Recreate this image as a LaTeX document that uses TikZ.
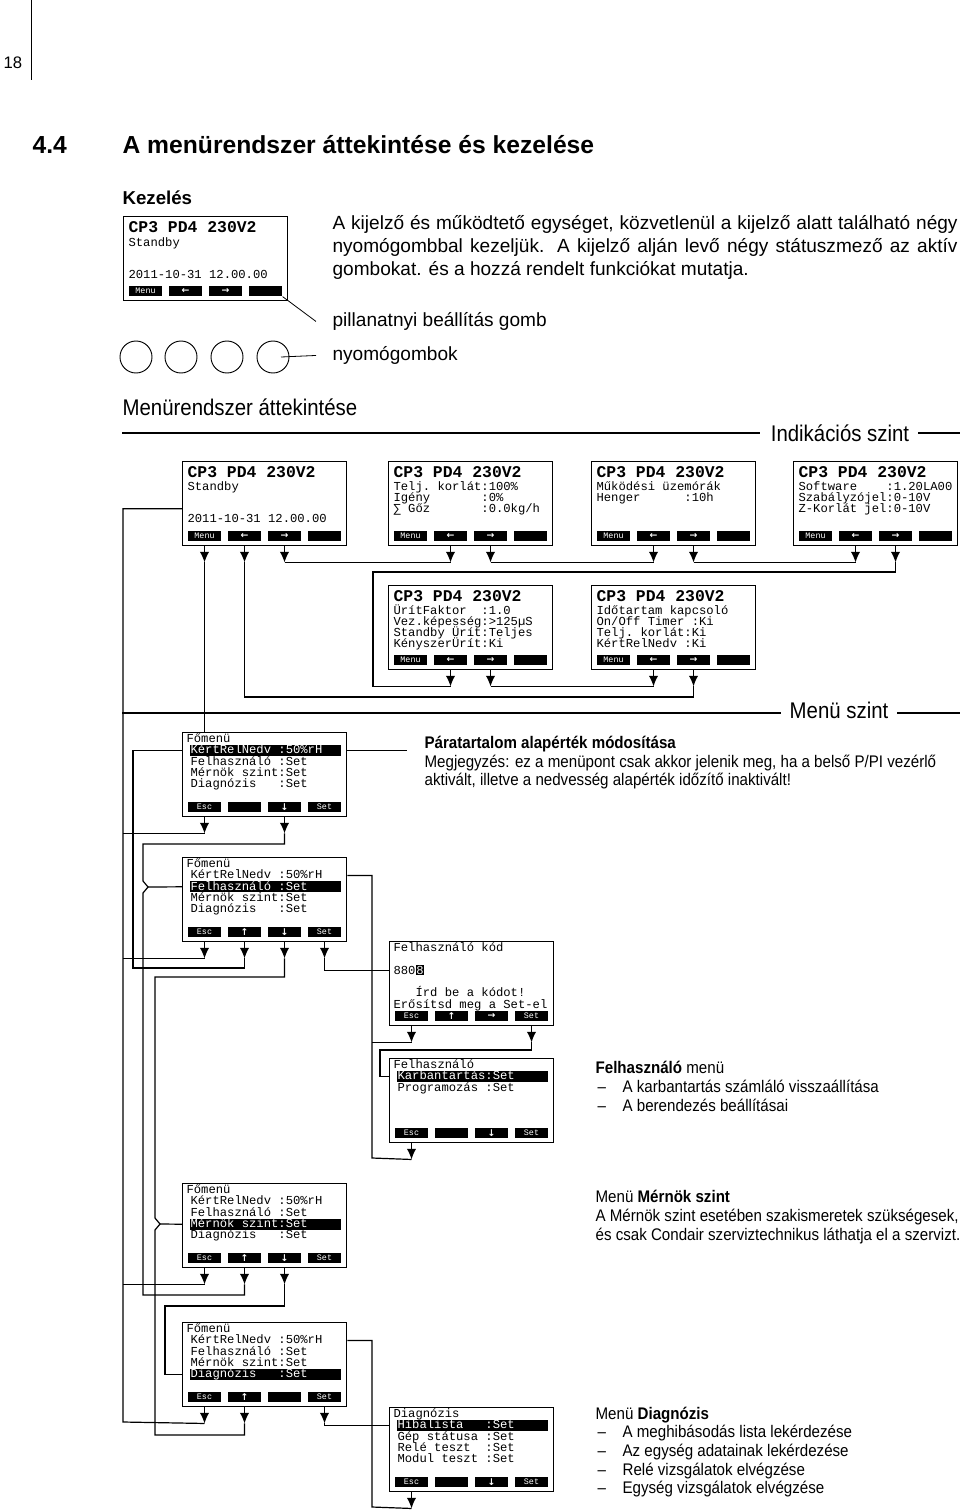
\documentclass[tikz,border=0pt]{standalone}
\usepackage{fontspec}
\setmainfont{Liberation Sans}
\setmonofont{Liberation Mono}
\newfontfamily\narrowfont[FakeStretch=0.9]{Liberation Sans}
\newfontfamily\symfont{DejaVu Sans}
\usetikzlibrary{arrows.meta}

\newcommand\lcdfont{\ttfamily\frenchspacing\fontsize{9.15}{10}\selectfont}
\newcommand\lcdbig{\ttfamily\bfseries\fontsize{12.3}{13}\selectfont}
\newcommand\btnfont{\ttfamily\fontsize{6.3}{7}\selectfont}
\newcommand\bodyfont{\fontsize{14.3}{17}\selectfont}
\newcommand\headfont{\bfseries\fontsize{18.5}{22}\selectfont}
\newcommand\notefont{\narrowfont\fontsize{12.6}{14}\selectfont}
\newcommand\levelfont{\narrowfont\fontsize{17}{20}\selectfont}
\newcommand\keyL{{\symfont\bfseries\fontsize{7}{7}\selectfont ←}}
\newcommand\keyR{{\symfont\bfseries\fontsize{7}{7}\selectfont →}}
\newcommand\keyU{{\symfont\bfseries\fontsize{7}{7}\selectfont ↑}}
\newcommand\keyD{{\symfont\bfseries\fontsize{7}{7}\selectfont ↓}}
\newcommand\hlchar[1]{{\setlength{\fboxsep}{0.6pt}\colorbox{black}{\textcolor{white}{#1}}}}
\newcommand\hibar[1]{\makebox[111.75pt][l]{#1}}

\newcommand\lcd[7]{%
  \node[lcdbox] (#1) at (#2,#3) {};
  \node[lcdbtn] (#1-1) at (#2+22.5,#3+75) {#4};
  \node[lcdbtn] (#1-2) at (#2+62.5,#3+75) {#5};
  \node[lcdbtn] (#1-3) at (#2+102.5,#3+75) {#6};
  \node[lcdbtn] (#1-4) at (#2+142.5,#3+75) {#7};
}
\newcommand\lcdrow[5][lcdtxt]{\node[#1] (#2-r#3) at ([shift={(#4)}]#2.north west) {#5};}
\newcommand\keyarr[2]{\draw[arr] (#1-#2 |- #1.south) -- ++(0,16) coordinate (#1-#2-t);}

\begin{document}
\begin{tikzpicture}[x=0.75pt, y=-0.75pt, line width=0.9pt,
  lcdbox/.style={draw, line width=1.1pt, anchor=north west, minimum width=123pt, minimum height=63pt, inner sep=0},
  lcdbtn/.style={fill=black, text=white, minimum width=24.75pt, minimum height=7.5pt, inner sep=0, font=\btnfont},
  lcdtxt/.style={anchor=west, inner sep=0, text height=6.5pt, text depth=1.5pt, font=\lcdfont},
  lcdtitle/.style={lcdtxt, text height=7pt, text depth=0pt, font=\lcdbig},
  lcdhi/.style={lcdtxt, fill=black, text=white, inner xsep=0.75pt, inner ysep=0.2pt},
  arr/.style={-{Latex[length=8pt,width=7pt]}},
  body/.style={anchor=base west, inner sep=0, font=\bodyfont},
  note/.style={anchor=base west, inner sep=0, font=\notefont},
  level/.style={anchor=base, inner sep=0, font=\levelfont},
  knob/.style={circle, draw, line width=0.7pt, minimum size=24pt, inner sep=0}]
\useasboundingbox (0,0) rectangle (960,1510);

\node[anchor=base west, inner sep=0, font=\fontsize{12.5}{14}\selectfont] (page) at (3,68) {18};
\draw[line width=0.7pt] (31,0) -- (31,80);
\node[anchor=base west, inner sep=0, font=\headfont] (secno) at (32,153.5) {4.4};
\node[anchor=base west, inner sep=0, font=\headfont] (sec) at (122,153.5) {A menürendszer áttekintése és kezelése};
\node[anchor=base west, inner sep=0, font=\bfseries\fontsize{14}{16}\selectfont] (kez) at (122,204) {Kezelés};

\lcd{K}{123}{216}{Menu}{\keyL}{\keyR}{}
\lcdrow[lcdtitle]{K}{0}{5,12}{CP3 PD4 230V2}
\lcdrow{K}{1}{5,27}{Standby}
\lcdrow{K}{4}{5,59}{2011-10-31 12.00.00}

\node[body] (p1) at (332,229.5) {\makebox[468.75pt][s]{A kijelző és működtető egységet, közvetlenül a kijelző alatt található négy}};
\node[body] (p2) at (332,252.5) {\makebox[468.75pt][s]{nyomógombbal kezeljük. A kijelző alján levő négy státuszmező az aktív}};
\node[body] (p3) at (332,275.5) {gombokat. és a hozzá rendelt funkciókat mutatja.};
\node[body] (pill) at (332,326.5) {pillanatnyi beállítás gomb};
\node[body] (nyo) at (332,360.5) {nyomógombok};
\draw[line width=0.6pt] (K-4.south east) -- ([xshift=-12pt]pill.west);

\node[knob] (c1) at (136,357) {};
\node[knob] (c2) at (181,357) {};
\node[knob] (c3) at (227,357) {};
\node[knob] (c4) at (273,357) {};
\draw[line width=0.6pt] ([xshift=6pt]c4.center) -- ([xshift=-12pt]nyo.west);

\node[anchor=base west, inner sep=0, font=\levelfont] (over) at (122,415) {Menürendszer áttekintése};
\node[level] (ind) at (840,441) {Indikációs szint};
\draw (122,433) -- (760,433);
\draw (918,433) -- (960,433);
\node[level] (menu) at (839,718) {Menü szint};
\draw (122,713) -- (781,713);
\draw (897,713) -- (960,713);

\lcd{D1}{182}{461}{Menu}{\keyL}{\keyR}{}
\lcdrow[lcdtitle]{D1}{0}{5,12}{CP3 PD4 230V2}
\lcdrow{D1}{1}{5,26}{Standby}
\lcdrow{D1}{4}{5,58}{2011-10-31 12.00.00}

\lcd{D2}{388}{461}{Menu}{\keyL}{\keyR}{}
\lcdrow[lcdtitle]{D2}{0}{5,12}{CP3 PD4 230V2}
\lcdrow{D2}{1}{5,26}{Telj. korlát:100\%}
\lcdrow{D2}{2}{5,37}{Igény~~~~~~~:0\%}
\lcdrow{D2}{3}{5,48}{∑~Gőz~~~~~~~:0.0kg/h}

\lcd{D3}{591}{461}{Menu}{\keyL}{\keyR}{}
\lcdrow[lcdtitle]{D3}{0}{5,12}{CP3 PD4 230V2}
\lcdrow{D3}{1}{5,26}{Működési üzemórák}
\lcdrow{D3}{2}{5,37}{Henger~~~~~~:10h}

\lcd{D4}{793}{461}{Menu}{\keyL}{\keyR}{}
\lcdrow[lcdtitle]{D4}{0}{5,12}{CP3 PD4 230V2}
\lcdrow{D4}{1}{5,26}{Software~~~~:1.20LA00}
\lcdrow{D4}{2}{5,37}{Szabályzójel:0-10V}
\lcdrow{D4}{3}{5,48}{Z-Korlát jel:0-10V}

\lcd{D5}{388}{585}{Menu}{\keyL}{\keyR}{}
\lcdrow[lcdtitle]{D5}{0}{5,12}{CP3 PD4 230V2}
\lcdrow{D5}{1}{5,26}{ÜrítFaktor~~:1.0}
\lcdrow{D5}{2}{5,37}{Vez.képesség:>125µS}
\lcdrow{D5}{3}{5,48}{Standby Ürít:Teljes}
\lcdrow{D5}{4}{5,59}{KényszerÜrít:Ki}

\lcd{D6}{591}{585}{Menu}{\keyL}{\keyR}{}
\lcdrow[lcdtitle]{D6}{0}{5,12}{CP3 PD4 230V2}
\lcdrow{D6}{1}{5,26}{Időtartam kapcsoló}
\lcdrow{D6}{2}{5,37}{On/Off Timer :Ki}
\lcdrow{D6}{3}{5,48}{Telj. korlát:Ki}
\lcdrow{D6}{4}{5,59}{KértRelNedv~:Ki}

\lcd{F1}{182}{732}{Esc}{}{\keyD}{Set}
\lcdrow{F1}{0}{4,7}{Főmenü}
\lcdrow[lcdhi]{F1}{1}{7,18.4}{\hibar{KértRelNedv :50\%rH}}
\lcdrow{F1}{2}{8,29.8}{Felhasználó :Set}
\lcdrow{F1}{3}{8,41.2}{Mérnök szint:Set}
\lcdrow{F1}{4}{8,52.6}{Diagnózis~~~:Set}

\lcd{F2}{182}{857}{Esc}{\keyU}{\keyD}{Set}
\lcdrow{F2}{0}{4,7}{Főmenü}
\lcdrow{F2}{1}{8,18.4}{KértRelNedv :50\%rH}
\lcdrow[lcdhi]{F2}{2}{7,29.8}{\hibar{Felhasználó :Set}}
\lcdrow{F2}{3}{8,41.2}{Mérnök szint:Set}
\lcdrow{F2}{4}{8,52.6}{Diagnózis~~~:Set}

\lcd{U1}{389}{941}{Esc}{\keyU}{\keyR}{Set}
\lcdrow{U1}{0}{4,7}{Felhasználó kód}
\lcdrow{U1}{2}{4,29.8}{880\hlchar{8}}
\lcdrow{U1}{4}{4,52.6}{~~~Írd be a kódot!}
\lcdrow{U1}{5}{4,64}{Erősítsd meg a Set-el}

\lcd{U2}{389}{1058}{Esc}{}{\keyD}{Set}
\lcdrow{U2}{0}{4,7}{Felhasználó}
\lcdrow[lcdhi]{U2}{1}{7,18.4}{\hibar{Karbantartás:Set}}
\lcdrow{U2}{2}{8,29.8}{Programozás :Set}

\lcd{F3}{182}{1183}{Esc}{\keyU}{\keyD}{Set}
\lcdrow{F3}{0}{4,7}{Főmenü}
\lcdrow{F3}{1}{8,18.4}{KértRelNedv :50\%rH}
\lcdrow{F3}{2}{8,29.8}{Felhasználó :Set}
\lcdrow[lcdhi]{F3}{3}{7,41.2}{\hibar{Mérnök szint:Set}}
\lcdrow{F3}{4}{8,52.6}{Diagnózis~~~:Set}

\lcd{F4}{182}{1322}{Esc}{\keyU}{}{Set}
\lcdrow{F4}{0}{4,7}{Főmenü}
\lcdrow{F4}{1}{8,18.4}{KértRelNedv :50\%rH}
\lcdrow{F4}{2}{8,29.8}{Felhasználó :Set}
\lcdrow{F4}{3}{8,41.2}{Mérnök szint:Set}
\lcdrow[lcdhi]{F4}{4}{7,52.6}{\hibar{Diagnózis~~~:Set}}

\lcd{G}{389}{1407}{Esc}{}{\keyD}{Set}
\lcdrow{G}{0}{4,7}{Diagnózis}
\lcdrow[lcdhi]{G}{1}{7,18.4}{\hibar{Hibalista~~~:Set}}
\lcdrow{G}{2}{8,29.8}{Gép státusa :Set}
\lcdrow{G}{3}{8,41.2}{Relé teszt~~:Set}
\lcdrow{G}{4}{8,52.6}{Modul teszt :Set}

\keyarr{D1}{1} \keyarr{D1}{2} \keyarr{D1}{3}
\keyarr{D2}{2} \keyarr{D2}{3}
\keyarr{D3}{2} \keyarr{D3}{3}
\keyarr{D4}{2} \keyarr{D4}{3}
\keyarr{D5}{2} \keyarr{D5}{3}
\keyarr{D6}{2} \keyarr{D6}{3}
\keyarr{F1}{1} \keyarr{F1}{3}
\keyarr{F2}{1} \keyarr{F2}{2} \keyarr{F2}{3} \keyarr{F2}{4}
\keyarr{U1}{1} \keyarr{U1}{4}
\keyarr{U2}{1}
\keyarr{F3}{1} \keyarr{F3}{2} \keyarr{F3}{3}
\keyarr{F4}{1} \keyarr{F4}{2} \keyarr{F4}{4}
\keyarr{G}{1}

\draw (D1-3-t) -- (D2-2-t);
\draw (D2-3-t) -- (D3-2-t);
\draw (D3-3-t) -- (D4-2-t);
\draw (D4-3-t) |- (373,572) |- (D5-2-t);
\draw (D5-3-t) -- (D6-2-t);
\draw (D6-3-t) |- (D1-2-t |- 0,697) -- (D1-2-t);
\draw (D1-1-t) -- (D1-1-t |- F1.north);
\draw ([yshift=-3.75pt]D1.west) -| (123,1422) -- (F4-1-t);

\draw (F1-1-t) -- (F1-1-t -| 123,0);
\draw (F1-r1 -| F1.east) -- ++(60,0);
\draw (F1-r1 -| F1.west) -| (133,968) -| (F2-2-t);
\draw (F1-3-t) |- (143,844) -- (143,881) -- (148,887) -- (143,893) |- (F3-2-t |- 0,1295) -- (F3-2-t);
\draw (148,887) -- (F2-r2 -| F2.west);

\draw (F2-1-t) -- (F2-1-t -| 123,0);
\draw (F2-3-t) |- (155,977) -- (155,1218) -- (160,1224) -- (155,1230) |- (F4-2-t |- 0,1435) -- (F4-2-t);
\draw (160,1224) -- (F3-r3 -| F3.west);
\draw (F2-4-t) |- (U1-r2 -| U1.west);
\draw (F2-r1 -| F2.east) -| (372,1158) -- (U2-1-t);

\draw (U1-1-t) -- (U1-1-t -| 372,0);
\draw (U1-4-t) |- (380,1050) |- (U2-r1 -| U2.west);

\draw (F3-1-t) -- (F3-1-t -| 123,0);
\draw (F3-3-t) |- (165,1306) |- (F4-r4 -| F4.west);

\draw (F4-4-t) |- (G-r1 -| G.west);
\draw (F4-r1 -| F4.east) -| (372,1507) -- (G-1-t);

\node[note] (pt1) at (424,748) {\bfseries Páratartalom alapérték módosítása};
\node[note] (pt2) at (424,767) {Megjegyzés: ez a menüpont csak akkor jelenik meg, ha a belső P/PI vezérlő};
\node[note] (pt3) at (424,785) {aktivált, illetve a nedvesség alapérték időzítő inaktivált!};

\node[note] (us1) at (595,1073) {\textbf{Felhasználó} menü};
\node[note] (us2) at (597,1092) {\makebox[18.75pt][l]{–}A karbantartás számláló visszaállítása};
\node[note] (us3) at (597,1111) {\makebox[18.75pt][l]{–}A berendezés beállításai};

\node[note] (en1) at (595,1202) {Menü \textbf{Mérnök szint}};
\node[note] (en2) at (595,1221) {A Mérnök szint esetében szakismeretek szükségesek,};
\node[note] (en3) at (595,1240) {és csak Condair szerviztechnikus láthatja el a szervizt.};

\node[note] (dg1) at (595,1419) {Menü \textbf{Diagnózis}};
\node[note] (dg2) at (597,1437) {\makebox[18.75pt][l]{–}A meghibásodás lista lekérdezése};
\node[note] (dg3) at (597,1456) {\makebox[18.75pt][l]{–}Az egység adatainak lekérdezése};
\node[note] (dg4) at (597,1475) {\makebox[18.75pt][l]{–}Relé vizsgálatok elvégzése};
\node[note] (dg5) at (597,1493) {\makebox[18.75pt][l]{–}Egység vizsgálatok elvégzése};
\end{tikzpicture}
\end{document}
